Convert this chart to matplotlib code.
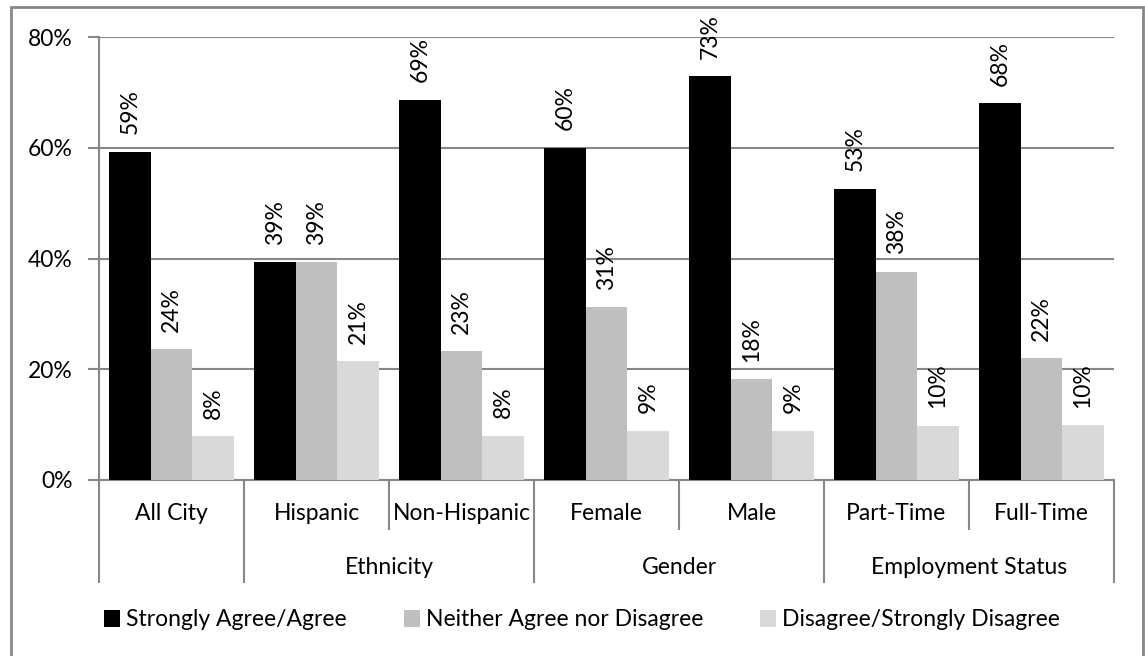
import matplotlib
matplotlib.use("Agg")
import matplotlib.pyplot as plt
from matplotlib.patches import Rectangle, Patch
from matplotlib.ticker import FuncFormatter
import numpy as np

plt.rcParams['font.family'] = ['Lato', 'DejaVu Sans']

# Survey results (percent of respondents)
categories = ["All City", "Hispanic", "Non-Hispanic", "Female", "Male", "Part-Time", "Full-Time"]
groups = ["", "Ethnicity", "Gender", "Employment Status"]
group_spans = [(0, 0), (1, 2), (3, 4), (5, 6)]
series_names = ["Strongly Agree/Agree", "Neither Agree nor Disagree", "Disagree/Strongly Disagree"]
agree = [59.3, 39.3, 68.7, 60.0, 72.9, 52.6, 68.0]
neither = [23.6, 39.3, 23.3, 31.2, 18.2, 37.6, 22.0]
disagree = [7.9, 21.4, 8.0, 8.9, 8.9, 9.8, 9.9]
y_ticks = [0, 20, 40, 60, 80]

colors = ["#000000", "#BFBFBF", "#D9D9D9"]
grid_col = "#878787"
FS = 16.5

W, H = 1145, 656
fig = plt.figure(figsize=(W / 100, H / 100), dpi=100)

# plot area in pixel terms
x0, x1, ytop, ybot = 99, 1114, 37, 480
ax = fig.add_axes([x0 / W, 1 - ybot / H, (x1 - x0) / W, (ybot - ytop) / H])
ax_h = ybot - ytop

x = np.arange(len(categories))
bw = 0.286
for i, (vals, name) in enumerate(zip([agree, neither, disagree], series_names)):
    bars = ax.bar(x + (i - 1) * bw, vals, width=bw, color=colors[i], label=name,
                  edgecolor="none", zorder=3)
    ax.bar_label(bars, labels=[f"{v:.0f}%" for v in vals], rotation=90,
                 padding=12.5, fontsize=FS, color="black")

ax.set_xlim(-0.5, len(categories) - 0.5)
ax.set_ylim(0, 80)
ax.set_yticks(y_ticks)
ax.yaxis.set_major_formatter(FuncFormatter(lambda v, p: f"{v:.0f}%"))
ax.tick_params(axis="y", length=8, width=1.5, color=grid_col, labelsize=FS, pad=11,
               labelcolor="black")
ax.set_xticks([])
ax.grid(axis="y", color=grid_col, linewidth=1.5, zorder=0)
for s in ["top", "right"]:
    ax.spines[s].set_visible(False)
for s in ["left", "bottom"]:
    ax.spines[s].set_color(grid_col)
    ax.spines[s].set_linewidth(1.5)

# hierarchical category axis below the bars
trans = ax.get_xaxis_transform()
inner_depth = 50 / ax_h
outer_depth = 103 / ax_h
outer_bounds = set()
for a, b in group_spans:
    outer_bounds.add(a - 0.5)
    outer_bounds.add(b + 0.5)
for k in range(len(categories) + 1):
    xb = k - 0.5
    depth = outer_depth if xb in outer_bounds else inner_depth
    ax.plot([xb, xb], [0, -depth], transform=trans, color=grid_col, lw=1.5,
            clip_on=False, solid_capstyle="butt")
for i, c in enumerate(categories):
    ax.text(i, -33 / ax_h, c, transform=trans, ha="center", va="center", fontsize=FS)
for g, (a, b) in zip(groups, group_spans):
    if g:
        ax.text((a + b) / 2, -87 / ax_h, g, transform=trans, ha="center", va="center",
                fontsize=FS)

# legend
handles = [Patch(facecolor=c, edgecolor="none") for c in colors]
fig.legend(handles, series_names, loc="center", ncol=3,
           bbox_to_anchor=(582 / W, 1 - 620 / H), frameon=False, fontsize=FS,
           handlelength=0.7, handleheight=0.7, handletextpad=0.25,
           columnspacing=2.5, borderpad=0)

# outer chart border
fig.add_artist(Rectangle((11 / W, -0.01), (1143 - 11) / W, 1.01 - 7 / H,
                         transform=fig.transFigure, fill=False,
                         edgecolor=grid_col, linewidth=2))

fig.savefig("out.png", dpi=100)
